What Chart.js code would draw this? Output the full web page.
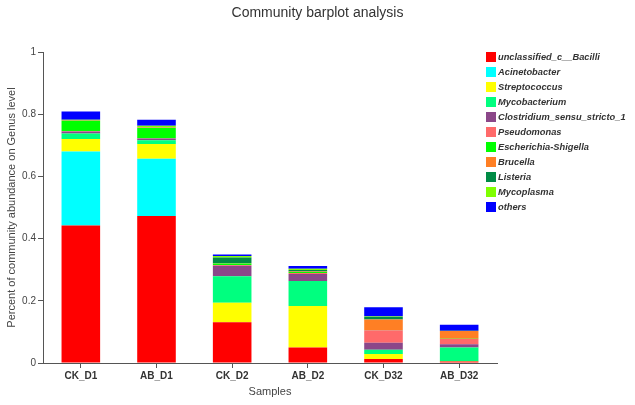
<!DOCTYPE html>
<html>
<head>
<meta charset="utf-8">
<script src="https://cdn.jsdelivr.net/npm/chart.js@4/dist/chart.umd.min.js"></script>
<style>
  html, body { margin: 0; padding: 0; background: #fff; }
  #wrap { position: relative; width: 635px; height: 405px; }
  #title { position: absolute; left: 0; top: 4px; width: 635px; text-align: center; font-family: "Liberation Sans", Arial, sans-serif; font-size: 14px; color: #333; line-height: 17px; }
  #legend { position: absolute; left: 486px; top: 0; font-family: "Liberation Sans", Arial, sans-serif; font-size: 9.3px; font-weight: bold; font-style: italic; color: #333; }
  .item { position: absolute; left: 0; white-space: nowrap; height: 10px; line-height: 10px; }
  .sw { position: absolute; left: 0; top: 0; width: 10px; height: 10px; }
  .lb { position: absolute; left: 12px; top: 0; }
</style>
</head>
<body>
<div id="wrap">
  <canvas id="c" width="635" height="405"></canvas>
  <div id="title">Community barplot analysis</div>
  <div id="legend"></div>
</div>
<script>
const categories = ['CK_D1', 'AB_D1', 'CK_D2', 'AB_D2', 'CK_D32', 'AB_D32'];
const seriesNames = ['unclassified_c__Bacilli', 'Acinetobacter', 'Streptococcus', 'Mycobacterium',
  'Clostridium_sensu_stricto_1', 'Pseudomonas', 'Escherichia-Shigella', 'Brucella', 'Listeria', 'Mycoplasma', 'others'];
const unclassified = [0.442, 0.473, 0.131, 0.050, 0.013, 0.005];
const acinetobacter = [0.238, 0.184, 0.000, 0.000, 0.000, 0.000];
const streptococcus = [0.040, 0.047, 0.063, 0.133, 0.016, 0.001];
const mycobacterium = [0.018, 0.012, 0.085, 0.081, 0.014, 0.044];
const clostridium = [0.006, 0.006, 0.034, 0.022, 0.022, 0.010];
const pseudomonas = [0.002, 0.001, 0.002, 0.003, 0.040, 0.017];
const escherichia = [0.032, 0.033, 0.005, 0.004, 0.001, 0.001];
const brucella = [0.001, 0.001, 0.001, 0.001, 0.034, 0.025];
const listeria = [0.001, 0.001, 0.018, 0.005, 0.009, 0.001];
const mycoplasma = [0.002, 0.005, 0.005, 0.004, 0.001, 0.000];
const others = [0.027, 0.019, 0.005, 0.009, 0.029, 0.019];
const yTicks = [0, 0.2, 0.4, 0.6, 0.8, 1];

const seriesValues = [unclassified, acinetobacter, streptococcus, mycobacterium, clostridium,
  pseudomonas, escherichia, brucella, listeria, mycoplasma, others];
const colors = ['#FF0000', '#00FFFF', '#FFFF00', '#00FF7F', '#8B4789', '#FF6A6A',
  '#00FF00', '#FF7F24', '#008B45', '#7FFF00', '#0000FF'];

const datasets = seriesNames.map((n, i) => ({
  label: n, data: seriesValues[i], backgroundColor: colors[i], borderWidth: 0,
  barPercentage: 0.51, categoryPercentage: 1.0
}));

const axisColor = '#555';
new Chart(document.getElementById('c'), {
  type: 'bar',
  data: { labels: categories, datasets },
  options: {
    responsive: false, animation: false,
    layout: { padding: { left: 0, right: 138, top: 52, bottom: 0 } },
    plugins: {
      legend: { display: false },
      tooltip: { enabled: false },
      title: { display: false }
    },
    scales: {
      x: {
        stacked: true,
        afterFit: s => { s.height = 42; },
        grid: { display: true, drawOnChartArea: false, offset: false, tickLength: 5, color: axisColor },
        border: { color: axisColor, width: 1 },
        ticks: { color: '#333', padding: 2, font: { family: '"Liberation Sans", Arial, sans-serif', size: 10, weight: 'bold' } },
        title: { display: true, text: 'Samples', color: '#444', padding: { top: 0, bottom: 6 },
          font: { family: '"Liberation Sans", Arial, sans-serif', size: 11 } }
      },
      y: {
        stacked: true, min: 0, max: 1,
        afterFit: s => { s.width = 43; },
        afterBuildTicks: s => { s.ticks = yTicks.map(v => ({ value: v })); },
        grid: { display: true, drawOnChartArea: false, tickLength: 5, color: axisColor },
        border: { color: axisColor, width: 1 },
        ticks: { color: '#444', padding: 2, callback: v => String(v),
          font: { family: '"Liberation Sans", Arial, sans-serif', size: 10 } },
        title: { display: true, text: 'Percent of community abundance on Genus level', color: '#444',
          padding: { top: 5, bottom: 0 },
          font: { family: '"Liberation Sans", Arial, sans-serif', size: 11 } }
      }
    }
  }
});

const lg = document.getElementById('legend');
seriesNames.forEach((n, i) => {
  const it = document.createElement('div');
  it.className = 'item';
  it.style.top = (52.3 + i * 14.94) + 'px';
  it.innerHTML = '<span class="sw" style="background:' + colors[i] + '"></span><span class="lb"></span>';
  it.querySelector('.lb').textContent = n;
  lg.appendChild(it);
});
</script>
</body>
</html>
